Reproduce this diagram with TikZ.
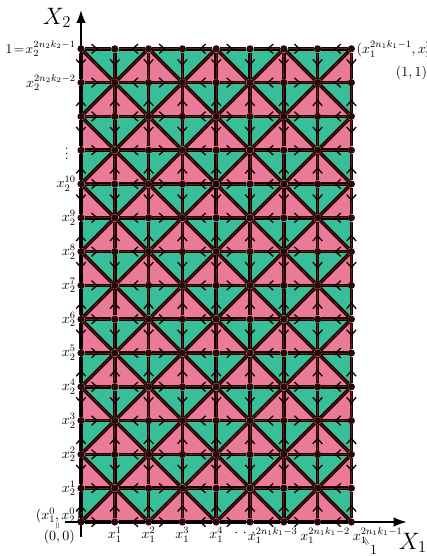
\documentclass[tikz,border=0pt]{standalone}
\usepackage{fix-cm}
\usepackage{amsmath}
\usepackage{tikz}
\usetikzlibrary{arrows.meta,positioning,backgrounds,decorations.markings}
\definecolor{cellgreen}{RGB}{56,190,152}
\definecolor{cellpink}{RGB}{233,123,152}
\definecolor{inkdark}{RGB}{22,0,0}
\definecolor{inkcore}{RGB}{105,25,25}
\definecolor{dotdark}{RGB}{45,5,5}

\begin{document}
\begin{tikzpicture}[
  font=\fontsize{11.8}{13}\selectfont,
  vtx/.style={circle,fill=dotdark,inner sep=0pt,minimum size=6pt},
  seg/.style={draw=inkdark,line width=1.15pt,double=inkcore,double distance=0.7pt},
  flow/.style={seg,postaction={decorate},
    decoration={markings,mark=at position 0.5 with
      {\arrow[inkdark,line width=1.1pt]{Straight Barb[length=4.5pt,width=8pt]}}}},
  upper/.style={fill=cellgreen},
  lower/.style={fill=cellpink},
  axis/.style={-{Latex[length=11pt,width=8pt]},line width=1.4pt},
  axlab/.style={font=\fontsize{20}{24}\selectfont},
  tick/.style={inner sep=1pt},
]
  \useasboundingbox (-2.396,-1.006) rectangle (10.237,15.444);

  \foreach \i in {0,...,8}
    \foreach \j in {0,...,14}
      \node[vtx] (v-\i-\j) at (\i,\j) {};

  \begin{scope}[on background layer]
    \foreach \i in {0,...,7}
      \foreach \j in {0,...,13} {
        \pgfmathtruncatemacro\ni{\i+1}
        \pgfmathtruncatemacro\nj{\j+1}
        \pgfmathtruncatemacro\odd{mod(\i+\j,2)}
        \fill[lower] (v-\i-\j.center) rectangle (v-\ni-\nj.center);
        \ifnum\odd=0
          \fill[upper] (v-\i-\j.center) -- (v-\i-\nj.center) -- (v-\ni-\nj.center) -- cycle;
        \else
          \fill[upper] (v-\i-\nj.center) -- (v-\ni-\nj.center) -- (v-\ni-\j.center) -- cycle;
        \fi
      }
    \foreach \i in {0,...,7}
      \foreach \j in {0,...,13} {
        \pgfmathtruncatemacro\ni{\i+1}
        \pgfmathtruncatemacro\nj{\j+1}
        \pgfmathtruncatemacro\odd{mod(\i+\j,2)}
        \ifnum\odd=0
          \draw[seg] (v-\i-\j) -- (v-\ni-\nj);
        \else
          \draw[seg] (v-\i-\nj) -- (v-\ni-\j);
        \fi
      }
    \foreach \i in {0,...,7}
      \foreach \j in {0,...,14} {
        \pgfmathtruncatemacro\ni{\i+1}
        \ifodd\i \draw[flow] (v-\ni-\j) -- (v-\i-\j);
        \else \draw[flow] (v-\i-\j) -- (v-\ni-\j); \fi
      }
    \foreach \i in {0,...,8}
      \foreach \j in {0,...,13} {
        \pgfmathtruncatemacro\nj{\j+1}
        \ifodd\j \draw[flow] (v-\i-\nj) -- (v-\i-\j);
        \else \draw[flow] (v-\i-\j) -- (v-\i-\nj); \fi
      }

    \coordinate (x1from) at (-0.47,0);
    \coordinate (x1to) at (9.64,0);
    \coordinate (x2from) at (0,-0.45);
    \coordinate (x2to) at (0,15.15);
    \draw[axis] (x2from) -- (x2to);
    \draw[axis] (x1from) -- (x1to);
  \end{scope}

  \node[axlab] (lx2) at (-0.71,14.91) {$X_2$};
  \node[axlab] (lx1) at (9.82,-0.62) {$X_1$};

  \foreach \j in {1,...,10}
    \node[tick,left=0pt of v-0-\j] (ly-\j) {$x_2^{\j}$};
  \node[tick,left=0pt of v-0-13] (ly-13) {$x_2^{2n_2k_2-2}$};
  \node[tick,left=0pt of v-0-14,font=\fontsize{11.3}{13}\selectfont] (ly-14) {$1\!=\!x_2^{2n_2k_2-1}$};
  \node (ly-dots) at (-0.42,11) {$\vdots$};

  \foreach \i in {1,...,4}
    \node[tick,below=0pt of v-\i-0] (lx-\i) {$x_1^{\i}$};
  \node[tick,anchor=north west] (lx-8) at (v-8-0.south) {$x_1^{2n_1k_1-1}$};
  \node[tick,left=0pt of lx-8] (lx-7) {$x_1^{2n_1k_1-2}$};
  \node[tick,left=0pt of lx-7] (lx-6) {$x_1^{2n_1k_1-3}$};
  \node[tick] (lx-5) at (4.85,-0.33) {${\cdot}\mkern6mu{\cdot}\mkern6mu{\cdot}$};
  \node[rotate=-60,inner sep=0pt,font=\fontsize{9}{10}\selectfont] (eq1) at (8.42,-0.61) {$=$};
  \node[inner sep=0pt] (one1) at (8.66,-0.82) {$1$};

  \node[inner sep=0pt,anchor=south east] (lorig) at (0.0,-0.03) {$(x_1^0,x_2^0)$};
  \node[rotate=90,inner sep=0pt,font=\fontsize{7}{8}\selectfont] (eq0) at (-0.67,-0.12) {$=$};
  \node[inner sep=0pt] (zero) at (-0.64,-0.43) {$(0,0)$};

  \node[anchor=west,inner sep=1pt] (lcorner) at (v-8-14.east) {$(x_1^{2n_1k_1-1},x_2^{2n_2k_2-1})$};
  \node[inner sep=0pt] (lone) at (9.78,13.28) {$(1,1)$};
\end{tikzpicture}
\end{document}
